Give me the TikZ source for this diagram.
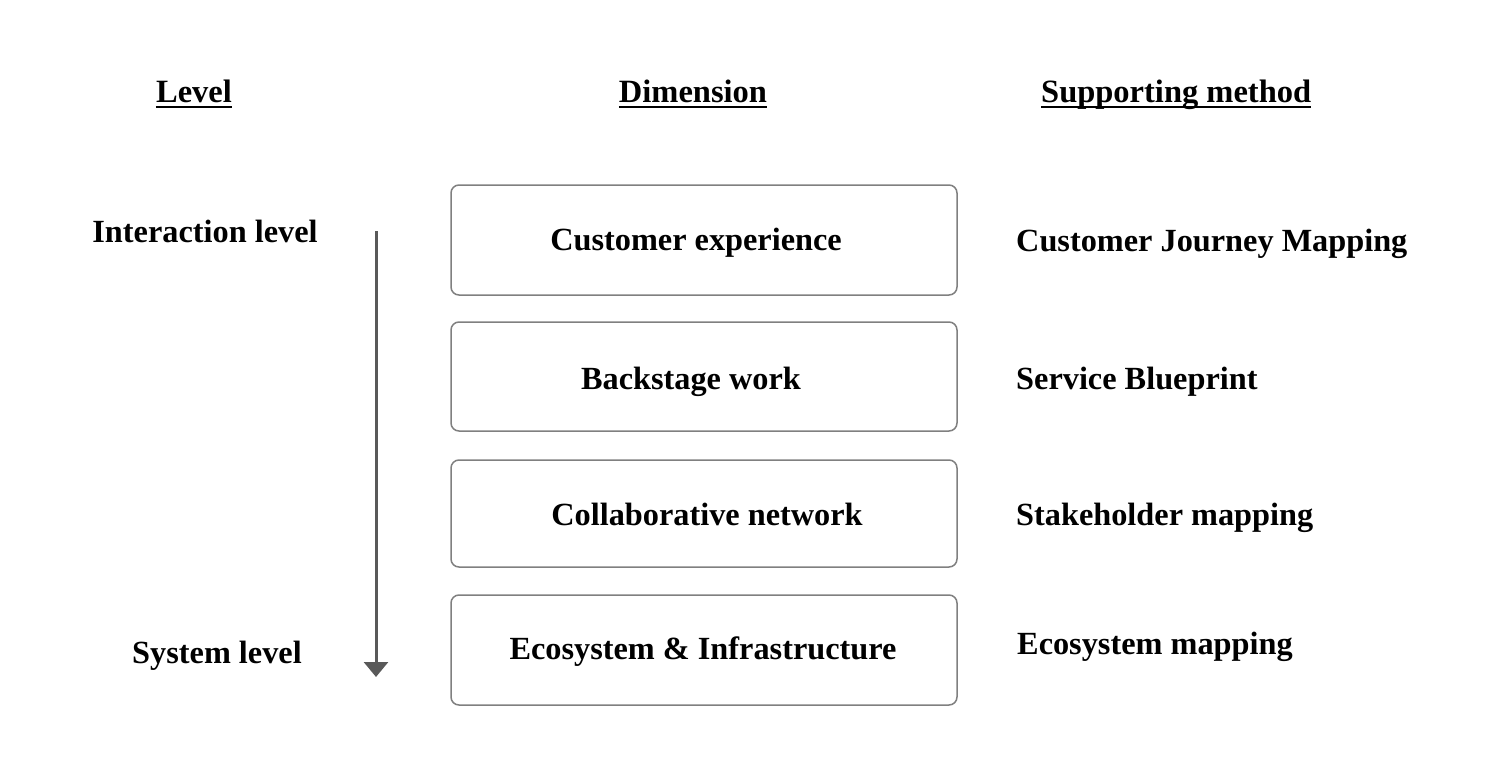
\documentclass[tikz,border=0pt]{standalone}
\usepackage{fontspec}
\setmainfont{Liberation Serif}
\usetikzlibrary{arrows.meta,calc}
\tikzset{
  dimbox/.style={draw=black!50, line width=1.5pt, rounded corners=8pt, fill=white},
  lbl/.style={font=\fontsize{32.3}{38}\selectfont\bfseries, inner sep=0pt, anchor=base},
  lblw/.style={lbl, anchor=base west},
  hdr/.style={font=\fontsize{32.5}{38}\selectfont\bfseries, inner sep=0pt, anchor=base},
  uline/.style={line width=2.4pt, black},
}
\begin{document}
\begin{tikzpicture}[x=1pt,y=-1pt]
\useasboundingbox (0,0) rectangle (1494,758);
% headers
\node[hdr] (hLevel) at (194,102) {Level};
\node[hdr] (hDim) at (693,102) {Dimension};
\node[hdr, anchor=base west] (hSup) at (1041,102) {Supporting method};
\foreach \h in {hLevel,hDim,hSup}{
  \draw[uline] ($(\h.base west)+(0,5)$) -- ($(\h.base east)+(0,5)$);
}
% boxes
\draw[dimbox] (451,185) rectangle (957,295);
\draw[dimbox] (451,322) rectangle (957,431);
\draw[dimbox] (451,460) rectangle (957,567);
\draw[dimbox] (451,595) rectangle (957,705);
\node[lbl] (b1) at (696,250.5) {Customer experience};
\node[lbl] (b2) at (691,389.5) {Backstage work};
\node[lbl] (b3) at (707,525.5) {Collaborative network};
\node[lbl] (b4) at (703,659.5) {Ecosystem \& Infrastructure};
% methods
\node[lblw] (m1) at (1016,251.5) {Customer Journey Mapping};
\node[lblw] (m2) at (1016,389.5) {Service Blueprint};
\node[lblw] (m3) at (1016,525.5) {Stakeholder mapping};
\node[lblw] (m4) at (1017,654.5) {Ecosystem mapping};
% levels
\node[lbl] (lTop) at (205,242.5) {Interaction level};
\node[lbl] (lBot) at (217,663.5) {System level};
\coordinate (aTop) at (376,231);
\coordinate (aBot) at (376,677);
\draw[black!65, line width=3pt, -{Triangle[width=24pt,length=15pt]}] (aTop) -- (aBot);
\end{tikzpicture}
\end{document}
